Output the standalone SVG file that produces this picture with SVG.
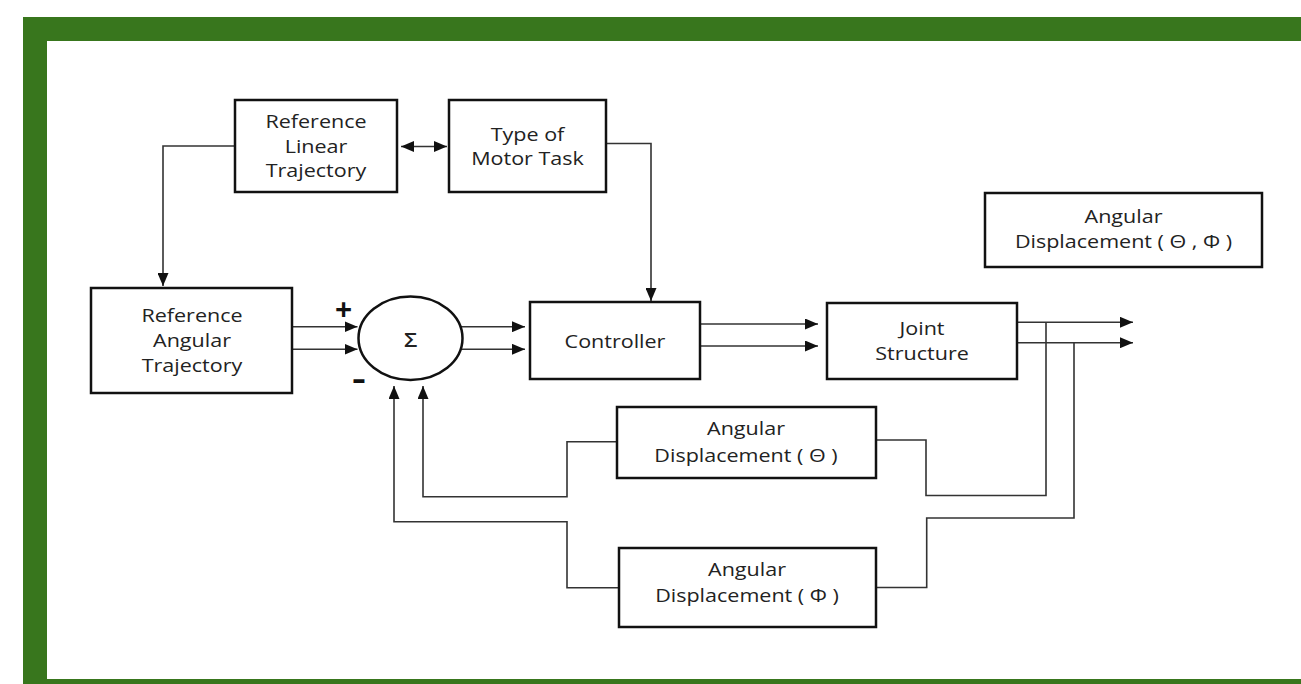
<svg xmlns="http://www.w3.org/2000/svg" width="1301" height="684" viewBox="0 0 1301 684">
<style>
.box{fill:#fff;stroke:#111;stroke-width:2.5}
.t{font-family:"Open Sans","Noto Sans",sans-serif;font-size:17.5px;fill:#222;text-anchor:middle}
.c{fill:none;stroke:#333;stroke-width:1.6}
.sign{font-family:"Open Sans","Noto Sans",sans-serif;font-weight:bold;fill:#111;text-anchor:middle}
</style>
<defs>
<marker id="ah" viewBox="0 0 13 11" refX="13" refY="5.5" markerWidth="13" markerHeight="11" markerUnits="userSpaceOnUse" orient="auto-start-reverse">
<path d="M0,0 L13,5.5 L0,11 z" fill="#111"/>
</marker>
</defs>
<rect x="0" y="0" width="1301" height="684" fill="#fff"/>
<g id="frame" fill="#38761d">
<rect x="23" y="17" width="1278" height="24"/>
<rect x="23" y="17" width="24" height="667"/>
<rect x="23" y="679" width="1278" height="5"/>
</g>
<g id="connectors">
<path class="c" d="M235,146 H163 V286" marker-end="url(#ah)"/>
<path class="c" d="M401,146.5 H447" marker-start="url(#ah)" marker-end="url(#ah)"/>
<path class="c" d="M606,143.5 H651 V301" marker-end="url(#ah)"/>
<path class="c" d="M292,326.7 H357.5" marker-end="url(#ah)"/>
<path class="c" d="M292,349.3 H357.5" marker-end="url(#ah)"/>
<path class="c" d="M461,326.7 H525" marker-end="url(#ah)"/>
<path class="c" d="M461,349.3 H525" marker-end="url(#ah)"/>
<path class="c" d="M700,324 H818" marker-end="url(#ah)"/>
<path class="c" d="M700,346 H818" marker-end="url(#ah)"/>
<path class="c" d="M1017,322.3 H1133" marker-end="url(#ah)"/>
<path class="c" d="M1017,342.7 H1133" marker-end="url(#ah)"/>
<path class="c" d="M1046,322.3 V495.5 H926 V440 H876"/>
<path class="c" d="M617,441.7 H567 V496.7 H423 V386" marker-end="url(#ah)"/>
<path class="c" d="M1074,342.7 V518 H926.7 V587.5 H876"/>
<path class="c" d="M619,587.7 H567 V521.7 H394 V386" marker-end="url(#ah)"/>
</g>
<g id="ref-linear">
<rect class="box" x="235" y="100" width="162" height="92"/>
<text class="t" transform="matrix(1.23 0 0 1 316 0)"><tspan x="0" y="128">Reference</tspan><tspan x="0" y="153">Linear</tspan><tspan x="0" y="177">Trajectory</tspan></text>
</g>
<g id="motor-task">
<rect class="box" x="449" y="100" width="157" height="92"/>
<text class="t" transform="matrix(1.23 0 0 1 527.5 0)"><tspan x="0" y="141.5">Type of</tspan><tspan x="0" y="165.5">Motor Task</tspan></text>
</g>
<g id="ref-angular">
<rect class="box" x="91" y="288" width="201" height="105"/>
<text class="t" transform="matrix(1.23 0 0 1 192 0)"><tspan x="0" y="322.5">Reference</tspan><tspan x="0" y="347.5">Angular</tspan><tspan x="0" y="372.5">Trajectory</tspan></text>
</g>
<g id="sum">
<ellipse cx="410.5" cy="338.3" rx="52" ry="41.7" fill="#fff" stroke="#111" stroke-width="2.5"/>
<text class="t" transform="matrix(1.15 0 0 1 410.7 0)" style="font-size:20px;font-weight:600"><tspan x="0" y="347">Σ</tspan></text>
<text class="sign" x="343.5" y="320" style="font-size:30px">+</text>
<text class="sign" transform="matrix(1.6 0 0 1.2 359 0)" x="0" y="324" style="font-size:26px">-</text>
</g>
<g id="controller">
<rect class="box" x="530" y="302" width="170" height="77"/>
<text class="t" transform="matrix(1.23 0 0 1 615 0)"><tspan x="0" y="348">Controller</tspan></text>
</g>
<g id="joint-structure">
<rect class="box" x="827" y="303" width="190" height="76"/>
<text class="t" transform="matrix(1.23 0 0 1 922 0)"><tspan x="0" y="335.5">Joint</tspan><tspan x="0" y="360">Structure</tspan></text>
</g>
<g id="angular-theta-phi">
<rect class="box" x="985" y="193" width="277" height="74"/>
<text class="t" transform="matrix(1.23 0 0 1 1123.5 0)"><tspan x="0" y="223.3">Angular</tspan><tspan x="0" y="248.3">Displacement ( Θ , Φ )</tspan></text>
</g>
<g id="angular-theta">
<rect class="box" x="617" y="407" width="259" height="71"/>
<text class="t" transform="matrix(1.23 0 0 1 746 0)"><tspan x="0" y="435">Angular</tspan><tspan x="0" y="461.7">Displacement ( Θ )</tspan></text>
</g>
<g id="angular-phi">
<rect class="box" x="619" y="548" width="257" height="79"/>
<text class="t" transform="matrix(1.23 0 0 1 747 0)"><tspan x="0" y="575.7">Angular</tspan><tspan x="0" y="602.3">Displacement ( Φ )</tspan></text>
</g>
</svg>
